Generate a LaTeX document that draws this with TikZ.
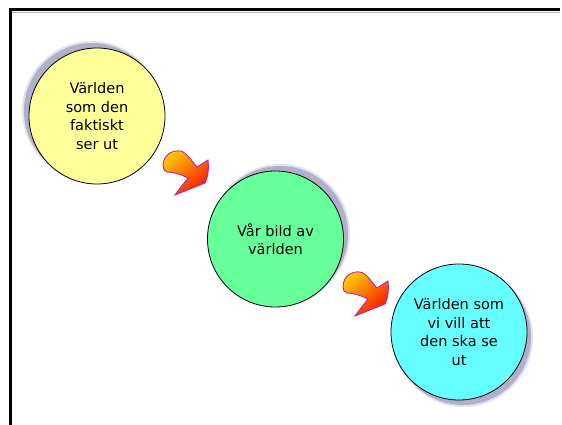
\documentclass[tikz,border=0pt]{standalone}
\usepackage{fontspec}
\setmainfont{DejaVu Sans}
\definecolor{cyel}{HTML}{FFFF99}
\definecolor{cgrn}{HTML}{66FF99}
\definecolor{ccya}{HTML}{66FFFF}
\definecolor{cshd}{HTML}{B0B0C8}
\definecolor{cshdl}{HTML}{E2E2EC}
\definecolor{cmag}{HTML}{C020B0}
\definecolor{ctop}{HTML}{FFC400}
\definecolor{cmid}{HTML}{FF8A00}
\definecolor{cbot}{HTML}{F01800}
\tikzset{
  bubble/.style={circle, draw=black, line width=0.8pt, minimum size=136pt, inner sep=0pt,
    align=center, font=\fontsize{14.5}{18.5}\selectfont},
  shadowfill/.style={fill=cshd},
  shadowsoft/.style={fill=cshdl},
  bentarrow/.pic={
    \shadedraw[draw=cmag, line width=0.9pt, top color=ctop, middle color=cmid, bottom color=cbot, shading angle=40]
      (0,15) .. controls (0,4) and (9,-1) .. (17,0)
      .. controls (24,1) and (29,11) .. (34,16)
      -- (45,9)
      .. controls (46,18) and (45,26) .. (42,32)
      -- (12,44)
      .. controls (17,37) and (22,31) .. (25,27)
      .. controls (17,23) and (9,21) .. (4,21)
      .. controls (1,20) and (0,18) .. (0,15) -- cycle;
  }
}
\begin{document}
\begin{tikzpicture}[x=1pt,y=-1pt]
\useasboundingbox (0,0) rectangle (562,425);
\fill[white] (0,0) rectangle (562,425);
% frame
\draw[cshd, line width=1pt] (12,12.8) -- (560,12.8);
\draw[black, line width=3pt] (10,425) -- (10,10) -- (560,10);
% shadows
\fill[shadowsoft] (91.5,110.5) circle (69.5);
\fill[shadowfill] (92,111) circle (68);
\fill[shadowsoft] (280.5,233.5) circle (69.5);
\fill[shadowfill] (280,234) circle (68);
\fill[shadowsoft] (463.5,337.5) circle (69.5);
\fill[shadowfill] (463,337) circle (68);
% circles
\node[bubble, fill=cyel] (c1) at (97,116) {Världen\\som den\\faktiskt\\ser ut};
\node[bubble, fill=cgrn] (c2) at (275.5,239) {Vår bild av\\världen};
\node[bubble, fill=ccya] (c3) at (459,332) {Världen som\\vi vill att\\den ska se\\ut};
% arrows
\pic at (163,151) {bentarrow};
\pic at (343,272) {bentarrow};
\end{tikzpicture}
\end{document}
